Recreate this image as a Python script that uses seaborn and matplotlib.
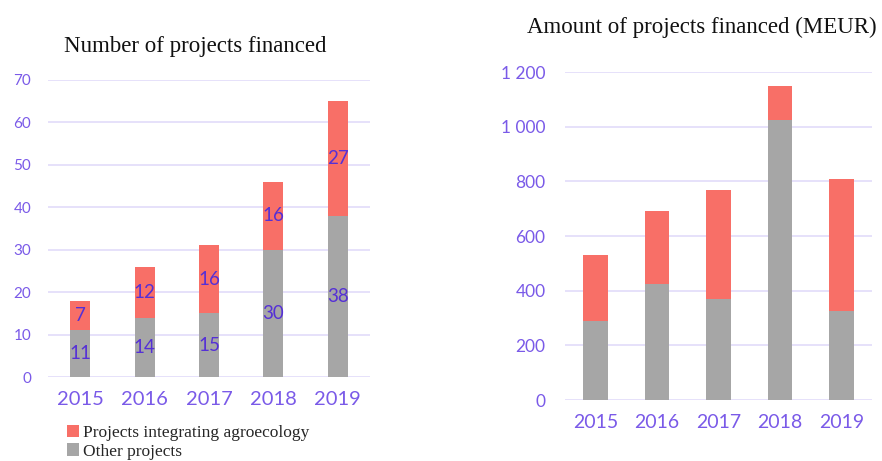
import matplotlib.pyplot as plt
import seaborn as sns
import pandas as pd
from matplotlib.patches import Patch
from matplotlib.ticker import FuncFormatter

years = ['2015', '2016', '2017', '2018', '2019']
count_agro = [7, 12, 16, 16, 27]
count_other = [11, 14, 15, 30, 38]
amount_agro = [243, 266, 399, 126, 482]
amount_other = [289, 424, 368, 1023, 325]

red = '#f86f67'
grey = '#a6a6a6'
tick_col = '#7a5ae8'
lab_col = '#5530d6'
grid_col = '#e2dcfa'

sns.set_theme(style='white')
plt.rcParams['font.family'] = ['Lato', 'DejaVu Sans']

df = pd.DataFrame({'year': years,
                   'count_agro': count_agro, 'count_other': count_other,
                   'amount_agro': amount_agro, 'amount_other': amount_other})
df['count_total'] = df['count_agro'] + df['count_other']
df['amount_total'] = df['amount_agro'] + df['amount_other']

fig = plt.figure(figsize=(8.82, 4.61), dpi=100)
ax1 = fig.add_axes([0.0544, 0.1822, 0.3651, 0.6443])
ax2 = fig.add_axes([0.6406, 0.1323, 0.3481, 0.7115])


def stacked(ax, total, other, width, ymax, step):
    sns.barplot(data=df, x='year', y=total, color=red, width=width,
                saturation=1, linewidth=0, ax=ax, zorder=3)
    sns.barplot(data=df, x='year', y=other, color=grey, width=width,
                saturation=1, linewidth=0, ax=ax, zorder=4)
    ax.set_ylim(0, ymax)
    ax.set_xlim(-0.5, 4.5)
    ax.set_yticks(range(0, ymax + 1, step))
    for y in range(0, ymax + 1, step):
        ax.axhline(y, color=grid_col, lw=1.2, zorder=1)
    ax.set_xlabel('')
    ax.set_ylabel('')
    sns.despine(ax=ax, left=True, bottom=True)
    ax.tick_params(axis='both', length=0, colors=tick_col)
    ax.tick_params(axis='x', labelsize=14.5, pad=10)


stacked(ax1, 'count_total', 'count_other', 0.31, 70, 10)
ax1.tick_params(axis='y', labelsize=11, pad=12)
for i, row in df.iterrows():
    ax1.text(i, row['count_other'] / 2, str(row['count_other']), ha='center',
             va='center', color=lab_col, fontsize=13.5, zorder=5)
    ax1.text(i, row['count_other'] + row['count_agro'] / 2, str(row['count_agro']),
             ha='center', va='center', color=lab_col, fontsize=13.5, zorder=5)
ax1.set_title('Number of projects financed', family='Liberation Serif',
              fontsize=16.5, color='#111111', pad=20, x=0.457)

stacked(ax2, 'amount_total', 'amount_other', 0.4, 1200, 200)
ax2.tick_params(axis='y', labelsize=12.5, pad=14)
ax2.tick_params(axis='x', labelsize=14)
ax2.yaxis.set_major_formatter(FuncFormatter(lambda v, p: f'{int(v):,}'.replace(',', ' ')))
ax2.set_title('Amount of projects financed (MEUR)', family='Liberation Serif',
              fontsize=16.5, color='#111111', pad=28, x=0.446)

handles = [Patch(facecolor=red, edgecolor='none', label='Projects integrating agroecology'),
           Patch(facecolor=grey, edgecolor='none', label='Other projects')]
fig.legend(handles=handles, loc='lower left', bbox_to_anchor=(0.068, -0.012),
           frameon=False, prop={'family': 'Liberation Serif', 'size': 12.5},
           handlelength=0.7, handleheight=0.7, handletextpad=0.2,
           labelspacing=0.15, borderaxespad=0)

fig.savefig('out.png', dpi=100)
